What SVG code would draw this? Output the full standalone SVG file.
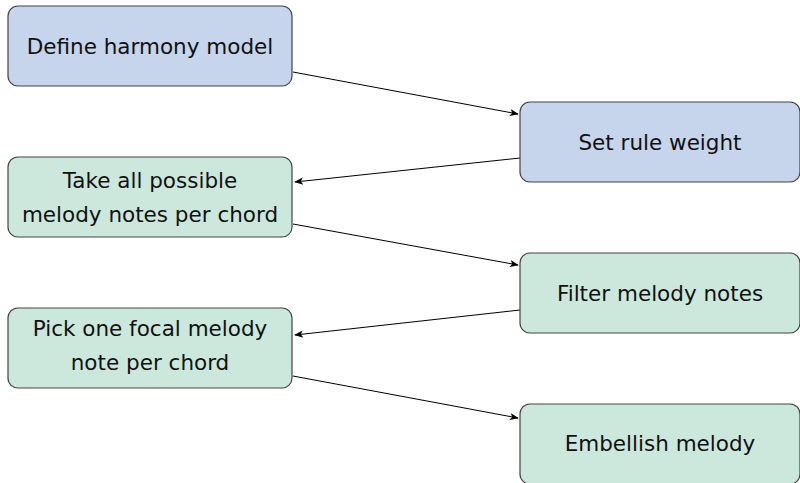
<svg xmlns="http://www.w3.org/2000/svg" width="800" height="483" viewBox="0 0 800 483">
<defs>
<marker id="ah" viewBox="0 0 10 10" refX="9" refY="5" markerWidth="9" markerHeight="9" markerUnits="userSpaceOnUse" orient="auto">
<path d="M0,1 L10,5 L0,9 L2.5,5 Z" fill="#000"/>
</marker>
<style>
.box{stroke:#444;stroke-width:1.2}
.blue{fill:#c6d4ec}
.green{fill:#cce8dc}
text{font-family:"DejaVu Sans","Liberation Sans",sans-serif;font-size:21.5px;fill:#111;text-anchor:middle;dominant-baseline:central}
.edge{stroke:#000;stroke-width:1;fill:none;marker-end:url(#ah)}
</style>
</defs>
<rect width="800" height="483" fill="#fff"/>
<g id="edges">
<line class="edge" x1="293" y1="72" x2="518" y2="114"/>
<line class="edge" x1="520" y1="158" x2="295" y2="182"/>
<line class="edge" x1="293" y1="224" x2="518" y2="265"/>
<line class="edge" x1="520" y1="310" x2="295" y2="335"/>
<line class="edge" x1="293" y1="376" x2="518" y2="418"/>
</g>
<g id="n1"><rect class="box blue" x="8" y="6" width="284" height="80" rx="10"/><text x="150" y="46">Define harmony model</text></g>
<g id="n2"><rect class="box blue" x="520" y="102" width="280" height="80" rx="10"/><text x="660" y="142">Set rule weight</text></g>
<g id="n3"><rect class="box green" x="8" y="157" width="284" height="80" rx="10"/><text x="150" y="180">Take all possible</text><text x="150" y="214">melody notes per chord</text></g>
<g id="n4"><rect class="box green" x="520" y="253" width="280" height="80" rx="10"/><text x="660" y="293">Filter melody notes</text></g>
<g id="n5"><rect class="box green" x="8" y="308" width="284" height="80" rx="10"/><text x="150" y="328">Pick one focal melody</text><text x="150" y="362">note per chord</text></g>
<g id="n6"><rect class="box green" x="520" y="404" width="280" height="80" rx="10"/><text x="660" y="443">Embellish melody</text></g>
</svg>
